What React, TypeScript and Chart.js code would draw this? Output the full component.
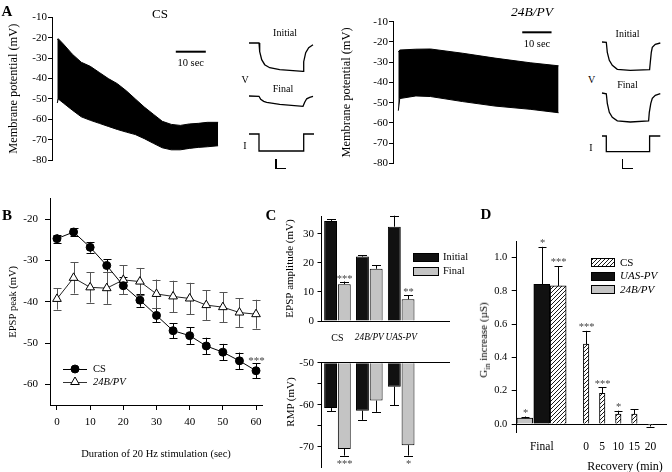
import React, { useEffect, useRef } from 'react';
import { Chart, registerables } from 'chart.js';
Chart.register(...registerables);

const SERIF = '"Liberation Serif", "Times New Roman", Times, serif';
Chart.defaults.color = '#000';
Chart.defaults.font.family = SERIF;
const f = (size: number, style = 'normal', weight = 'normal') => ({ family: SERIF, size, style, weight, lineHeight: 1.2 });

// ================= DATA =================
// Panel A – membrane potential envelope of the 20 Hz train (mV vs s)
const csTraceTime = [0, 0.3, 2, 5, 8, 11, 14, 17, 20, 23, 26, 29, 32, 35, 38, 41, 44, 47, 50, 53.6];
const csTraceUpper = [-21, -20.4, -23, -28, -32, -34, -37, -40, -42.5, -46, -50, -54, -57.5, -61, -62.5, -63, -62.3, -62, -61.5, -61.5];
const csTraceLower = [-52, -50, -52, -55.5, -58.8, -60.5, -62, -63.5, -65, -66.3, -67.5, -69.5, -71.8, -74, -75, -75, -74.3, -73.8, -73.5, -73];
const pvTraceTime = [0, 0.5, 6, 11, 22, 33, 45, 54.7];
const pvTraceUpper = [-25, -24, -23.6, -23.5, -25.6, -28, -30.3, -31.8];
const pvTraceLower = [-54, -48, -46.7, -47, -49.5, -51.7, -53.3, -55];
const memTicks = [-80, -70, -60, -50, -40, -30, -20, -10];

// Panel A insets (arbitrary units, V and I responses to a current pulse)
const csInitT = [0, 10, 10.7, 12.7, 15.7, 20.7, 30.7, 54, 54.7, 56.7, 59.7, 64];
const csInitV = [0, 0, -8.7, -16.7, -21.7, -24.7, -26.7, -28.4, -18.7, -9.7, -4.7, -1.7];
const csFinalT = [0, 10, 11.7, 14.7, 17.7, 30.7, 54, 55.7, 57.7, 60.7, 64];
const csFinalV = [0, -0.3, -3.3, -5.3, -6.3, -8.3, -10.3, -6.3, -2.8, -1.3, -0.3];
const csCurT = [0, 10, 10, 54.7, 54.7, 65];
const csCurI = [0, 0, -17, -17, 0, 0];
const pvInitT = [0, 4.3, 5.3, 7.3, 10.3, 15.3, 28.3, 47.6, 48.3, 49.3, 50.3, 53.3, 58.3];
const pvInitV = [0, -0.3, -10.3, -18.3, -23.3, -27.3, -28.3, -27.6, -20.3, -10.3, -5.3, -2.3, -1];
const pvFinalT = [0, 4.3, 5.3, 7.3, 10.3, 15.3, 28.3, 46.6, 47.3, 48.8, 50.3, 53.3, 58.3];
const pvFinalV = [0, -0.8, -10.3, -19.3, -24.3, -27.8, -29, -28, -19.3, -10.3, -5.3, -2.3, -0.6];
const pvCurT = [0, 4.3, 4.3, 47.6, 47.6, 58.3];
const pvCurI = [0, 0, -15.7, -15.7, 0, 0];

// Panel B – EPSP peak during stimulation
const stimTime = [0, 5, 10, 15, 20, 25, 30, 35, 40, 45, 50, 55, 60];
const csPeak = [-24.7, -23.1, -26.8, -31.2, -36.1, -39.6, -43.3, -47.0, -48.2, -50.7, -52.2, -54.3, -56.7];
const csPeakErr = [1.0, 1.0, 1.3, 1.5, 2.0, 1.6, 1.7, 1.8, 2.0, 2.0, 2.0, 2.0, 1.8];
const csPeakStars = ['', '', '', '', '', '', '', '', '', '', '', '', '***'];
const pvPeak = [-39.3, -34.2, -36.5, -36.7, -34.7, -35.1, -38.1, -38.7, -39.2, -40.8, -41.3, -42.6, -43.0];
const pvPeakErr = [2.6, 3.8, 3.7, 3.8, 3.5, 3.3, 3.5, 3.8, 3.8, 3.6, 3.6, 3.5, 3.5];
const stimTicks = [0, 10, 20, 30, 40, 50, 60];
const peakTicks = [-60, -50, -40, -30, -20];

// Panel C – EPSP amplitude and RMP
const genotypes = ['CS', '24B/PV', 'UAS-PV'];
const epspInitial = [34.5, 22.2, 32.5];
const epspInitialErr = [0.5, 0.5, 3.8];
const epspFinal = [12.7, 18.0, 7.5];
const epspFinalErr = [0.9, 1.2, 1.4];
const epspFinalStars = ['***', '', '**'];
const rmpInitial = [-60.8, -61.4, -55.7];
const rmpInitialErr = [0.8, 2.2, 4.4];
const rmpFinal = [-70.5, -59.0, -69.6];
const rmpFinalErr = [1.6, 2.7, 2.5];
const rmpFinalStars = ['***', '', '*'];
const epspTicks = [0, 5, 10, 15, 20, 25, 30, 35];
const rmpTicks = [-70, -65, -60, -55, -50];

// Panel D – Gin increase
const finalSlots = [-19.1, -13.8, -8.7]; // 24B/PV, UAS-PV, CS (Final group)
const finalGin = [0.035, 0.84, 0.83];
const finalGinErr = [0.01, 0.225, 0.12];
const finalStars = ['*', '*', '***'];
const recoveryMin = [0, 5, 10, 15, 20];
const recoveryGin = [0.48, 0.185, 0.06, 0.06, -0.005];
const recoveryErr = [0.08, 0.035, 0.02, 0.03, 0.01];
const recoveryStars = ['***', '***', '*', '', ''];
const ginTicks = [0, 0.2, 0.4, 0.6, 0.8, 1.0];

// ================= PLUGINS =================
function drawErrorBars(chart: any, opts: any) {
  const ctx = chart.ctx;
  ctx.save();
  chart.data.datasets.forEach((ds: any, di: number) => {
    if (!ds.errors) return;
    const meta = chart.getDatasetMeta(di);
    const ys = chart.scales[meta.yAxisID];
    meta.data.forEach((el: any, i: number) => {
      const raw = ds.data[i];
      const v = typeof raw === 'number' ? raw : raw.y;
      const e = ds.errors[i];
      if (e == null) return;
      const x = Math.round(el.x) + 0.5;
      const cap = (ds.capWidth ?? opts.capWidth ?? 8) / 2;
      const mode = ds.errorMode ?? 'both';
      let pEnd: number, pStart: number;
      if (mode === 'both') {
        pEnd = ys.getPixelForValue(v + e);
        pStart = ys.getPixelForValue(v - e);
      } else {
        const base = ds.errorBase ?? 0;
        const dir = v >= base ? 1 : -1;
        pEnd = ys.getPixelForValue(v + dir * e);
        pStart = ys.getPixelForValue(v);
      }
      ctx.strokeStyle = ds.errorColor ?? '#000';
      ctx.lineWidth = 1;
      ctx.beginPath();
      ctx.moveTo(x, pStart);
      ctx.lineTo(x, pEnd);
      const yE = Math.round(pEnd) + 0.5;
      ctx.moveTo(x - cap, yE);
      ctx.lineTo(x + cap, yE);
      if (mode === 'both') {
        const yS = Math.round(pStart) + 0.5;
        ctx.moveTo(x - cap, yS);
        ctx.lineTo(x + cap, yS);
      }
      ctx.stroke();
      const star = ds.stars?.[i];
      if (star) {
        const size = opts.starSize ?? 11;
        ctx.font = `${size}px ${SERIF}`;
        ctx.fillStyle = opts.starColor ?? '#444';
        ctx.textAlign = 'center';
        ctx.textBaseline = 'alphabetic';
        const gap = opts.starGap ?? 6;
        const up = pEnd <= ys.getPixelForValue(v);
        const c = up ? pEnd - gap : pEnd + gap;
        ctx.fillText(star, x, c + size * 0.5);
      }
    });
  });
  ctx.restore();
}
const errorBarsPlugin = {
  id: 'errorBars',
  beforeDatasetsDraw(chart: any, _a: any, opts: any) { if (opts.layer === 'before') drawErrorBars(chart, opts); },
  afterDatasetsDraw(chart: any, _a: any, opts: any) { if (opts.layer !== 'before') drawErrorBars(chart, opts); },
};

function drawMarker(ctx: any, style: string, x: number, y: number, r: number, fill: string) {
  ctx.beginPath();
  if (style === 'triangle') {
    let rad = 0;
    ctx.moveTo(x + Math.sin(rad) * r, y - Math.cos(rad) * r);
    rad += (2 * Math.PI) / 3;
    ctx.lineTo(x + Math.sin(rad) * r, y - Math.cos(rad) * r);
    rad += (2 * Math.PI) / 3;
    ctx.lineTo(x + Math.sin(rad) * r, y - Math.cos(rad) * r);
    ctx.closePath();
  } else {
    ctx.arc(x, y, r, 0, Math.PI * 2);
  }
  ctx.fillStyle = fill;
  ctx.fill();
  ctx.strokeStyle = '#000';
  ctx.lineWidth = 1;
  ctx.stroke();
}

const miniLegendPlugin = {
  id: 'miniLegend',
  afterDraw(chart: any, _a: any, opts: any) {
    if (!opts.items) return;
    const ctx = chart.ctx;
    ctx.save();
    opts.items.forEach((it: any, i: number) => {
      const y = opts.y + i * opts.spacing;
      if (it.kind === 'line') {
        ctx.strokeStyle = it.color ?? '#000';
        ctx.lineWidth = 1;
        ctx.beginPath();
        ctx.moveTo(opts.x, Math.round(y) + 0.5);
        ctx.lineTo(opts.x + opts.w, Math.round(y) + 0.5);
        ctx.stroke();
        drawMarker(ctx, it.marker, opts.x + opts.w / 2, y, it.radius ?? 4, it.fill);
      } else {
        const fill = typeof it.fill === 'function' ? it.fill(ctx) : it.fill;
        ctx.fillStyle = fill;
        const top = Math.round(y - opts.h / 2);
        ctx.fillRect(opts.x, top, opts.w, opts.h);
        ctx.strokeStyle = '#000';
        ctx.lineWidth = 1;
        ctx.strokeRect(opts.x + 0.5, top + 0.5, opts.w - 1, opts.h - 1);
      }
      ctx.font = `${it.italic ? 'italic ' : ''}${opts.fontSize}px ${SERIF}`;
      ctx.fillStyle = '#000';
      ctx.textAlign = 'left';
      ctx.textBaseline = 'middle';
      ctx.fillText(it.text, opts.x + opts.w + opts.gap, y + 0.5);
    });
    ctx.restore();
  },
};

const timeBarPlugin = {
  id: 'timeBar',
  afterDraw(chart: any, _a: any, opts: any) {
    if (opts.start == null) return;
    const xs = chart.scales.x;
    const x1 = xs.getPixelForValue(opts.start);
    const x2 = xs.getPixelForValue(opts.start + opts.length);
    chart.ctx.save();
    chart.ctx.fillStyle = '#000';
    chart.ctx.fillRect(x1, opts.y - 1, x2 - x1, 2);
    chart.ctx.restore();
  },
};

function hatchPattern() {
  const tile = document.createElement('canvas');
  tile.width = 4;
  tile.height = 4;
  const g = tile.getContext('2d')!;
  g.fillStyle = '#fff';
  g.fillRect(0, 0, 4, 4);
  g.strokeStyle = '#000';
  g.lineWidth = 0.9;
  g.beginPath();
  g.moveTo(0, 4); g.lineTo(4, 0);
  g.moveTo(-1, 1); g.lineTo(1, -1);
  g.moveTo(3, 5); g.lineTo(5, 3);
  g.stroke();
  return g.createPattern(tile, 'repeat');
}

const baseOpts = {
  responsive: false,
  animation: false,
  events: [],
};
const noPlugins = { legend: { display: false }, tooltip: { enabled: false } };
const axisGrid = (tickLength: number, drawTicks = true) => ({
  display: true, drawOnChartArea: false, drawTicks, tickLength, color: '#000', tickColor: '#000',
});
const border = { display: true, color: '#000', width: 1 };

// ================= CONFIG BUILDERS =================
function traceConfig(time: number[], upper: number[], lower: number[], o: any) {
  return {
    type: 'line',
    data: {
      datasets: [
        { label: 'upper', data: time.map((t, i) => ({ x: t, y: upper[i] })), borderColor: '#000', borderWidth: 1, pointRadius: 0, fill: false },
        { label: 'lower', data: time.map((t, i) => ({ x: t, y: lower[i] })), borderColor: '#000', borderWidth: 1, pointRadius: 0, fill: '-1', backgroundColor: '#000' },
      ],
    },
    options: {
      ...baseOpts,
      layout: { padding: { top: o.padTop, right: o.padRight, bottom: o.padBottom, left: 0 } },
      plugins: { ...noPlugins, timeBar: { start: o.barStart, length: 10, y: o.barY } },
      scales: {
        x: { type: 'linear', display: false, min: o.xMin, max: o.xMax },
        y: {
          type: 'linear', min: -80, max: -10,
          afterBuildTicks: (s: any) => { s.ticks = memTicks.map((v) => ({ value: v })); },
          ticks: { font: f(11), padding: 1 },
          grid: axisGrid(4),
          border,
          title: { display: true, text: 'Membrane potential (mV)', font: f(12.4), padding: { top: o.titlePad, bottom: 0 } },
          afterFit: (s: any) => { s.width = o.yWidth; },
        },
      },
    },
    plugins: [timeBarPlugin],
  };
}

function insetConfig(t: number[], v: number[], w: number, d: number) {
  return {
    type: 'line',
    data: { datasets: [{ data: t.map((x, i) => ({ x, y: v[i] })), borderColor: '#000', borderWidth: 1.3, pointRadius: 0, fill: false }] },
    options: {
      ...baseOpts,
      layout: { padding: 0 },
      plugins: noPlugins,
      scales: {
        x: { type: 'linear', display: false, min: -3, max: w + 3 },
        y: { type: 'linear', display: false, min: -(d + 4), max: 4 },
      },
    },
  };
}

function peakConfig() {
  return {
    type: 'line',
    data: {
      datasets: [
        {
          label: 'CS', data: stimTime.map((t, i) => ({ x: t, y: csPeak[i] })),
          borderColor: '#000', borderWidth: 1, pointStyle: 'circle', pointRadius: 4, pointBackgroundColor: '#000', pointBorderColor: '#000',
          errors: csPeakErr, stars: csPeakStars, errorColor: '#000',
        },
        {
          label: '24B/PV', data: stimTime.map((t, i) => ({ x: t, y: pvPeak[i] })),
          borderColor: '#222', borderWidth: 1, pointStyle: 'triangle', pointRadius: 5, pointBackgroundColor: '#fff', pointBorderColor: '#000', pointBorderWidth: 1,
          errors: pvPeakErr, errorColor: '#555',
        },
      ],
    },
    options: {
      ...baseOpts,
      layout: { padding: { top: 8, right: 8, bottom: 0, left: 0 } },
      plugins: {
        ...noPlugins,
        errorBars: { layer: 'before', capWidth: 8, starGap: 5, starSize: 11 },
        miniLegend: {
          x: 63, y: 184, w: 24, spacing: 13, gap: 6, fontSize: 10.5,
          items: [
            { kind: 'line', marker: 'circle', fill: '#000', text: 'CS', radius: 4 },
            { kind: 'line', marker: 'triangle', fill: '#fff', text: '24B/PV', italic: true, radius: 5, color: '#333' },
          ],
        },
      },
      scales: {
        x: {
          type: 'linear', min: -2.1, max: 61.8,
          afterBuildTicks: (s: any) => { s.ticks = stimTicks.map((v) => ({ value: v })); },
          ticks: { font: f(11), padding: 5.7 },
          grid: axisGrid(5),
          border,
          title: { display: true, text: 'Duration of 20 Hz stimulation (sec)', font: f(10.5), padding: { top: 0, bottom: 11.7 } },
          afterFit: (s: any) => { s.height = 67; },
        },
        y: {
          type: 'linear', min: -65, max: -15,
          afterBuildTicks: (s: any) => { s.ticks = peakTicks.map((v) => ({ value: v })); },
          ticks: { font: f(11), padding: 7 },
          grid: axisGrid(5),
          border,
          title: { display: true, text: 'EPSP peak (mV)', font: f(10.5), padding: { top: 7, bottom: 0 } },
          afterFit: (s: any) => { s.width = 50; },
        },
      },
    },
    plugins: [errorBarsPlugin, miniLegendPlugin],
  };
}

const initialColor = '#111';
const finalColor = '#c4c4c4';

function epspConfig() {
  const common = { borderColor: '#000', borderWidth: 1, categoryPercentage: 0.86, barPercentage: 0.94, errorMode: 'away', errorBase: 0 };
  return {
    type: 'bar',
    data: {
      labels: [...genotypes, ''],
      datasets: [
        { label: 'Initial', data: epspInitial, backgroundColor: initialColor, errors: epspInitialErr, ...common },
        { label: 'Final', data: epspFinal, backgroundColor: finalColor, errors: epspFinalErr, stars: epspFinalStars, ...common },
      ],
    },
    options: {
      ...baseOpts,
      layout: { padding: { top: 21, right: 23, bottom: 0, left: 0 } },
      plugins: {
        ...noPlugins,
        errorBars: { capWidth: 9, starGap: 5, starSize: 10.5 },
        miniLegend: {
          x: 151, y: 62, w: 26, h: 9, spacing: 14, gap: 4, fontSize: 10.5,
          items: [
            { kind: 'box', fill: initialColor, text: 'Initial' },
            { kind: 'box', fill: finalColor, text: 'Final' },
          ],
        },
      },
      scales: {
        x: {
          type: 'category', position: 'bottom', offset: true,
          ticks: {
            font: (c: any) => (c.index === 0 ? f(10) : f(9.3, 'italic')),
            padding: 11, maxRotation: 0, minRotation: 0, autoSkip: false,
          },
          grid: axisGrid(0, false),
          border,
          afterFit: (s: any) => { s.height = 24; },
        },
        y: {
          type: 'linear', min: 0, max: 36.2,
          afterBuildTicks: (s: any) => { s.ticks = epspTicks.map((v) => ({ value: v })); },
          ticks: { font: f(11), padding: 3.5, callback: (v: number) => (v % 10 === 0 ? String(v) : '') },
          grid: axisGrid(4),
          border,
          title: { display: true, text: 'EPSP amplitude (mV)', font: f(11), padding: { top: 21.4, bottom: 0 } },
          afterFit: (s: any) => { s.width = 59.5; },
        },
      },
    },
    plugins: [errorBarsPlugin, miniLegendPlugin],
  };
}

function rmpConfig() {
  const common = { borderColor: '#000', borderWidth: 1, categoryPercentage: 0.86, barPercentage: 0.94, base: -50, errorMode: 'away', errorBase: -50 };
  return {
    type: 'bar',
    data: {
      labels: [...genotypes, ''],
      datasets: [
        { label: 'Initial', data: rmpInitial, backgroundColor: initialColor, errors: rmpInitialErr, ...common },
        { label: 'Final', data: rmpFinal, backgroundColor: finalColor, errors: rmpFinalErr, stars: rmpFinalStars, ...common },
      ],
    },
    options: {
      ...baseOpts,
      layout: { padding: { top: 0, right: 23, bottom: 18, left: 0 } },
      plugins: { ...noPlugins, errorBars: { capWidth: 9, starGap: 6, starSize: 10.5 } },
      scales: {
        x: {
          type: 'category', position: 'top', offset: true,
          ticks: { display: false },
          grid: axisGrid(0, false),
          border,
          afterFit: (s: any) => { s.height = 17.7; },
        },
        y: {
          type: 'linear', min: -74.8, max: -50,
          afterBuildTicks: (s: any) => { s.ticks = rmpTicks.map((v) => ({ value: v })); },
          ticks: { font: f(11), padding: 3.5, callback: (v: number) => (v % 10 === 0 ? String(v) : '') },
          grid: axisGrid(4),
          border,
          afterFit: (s: any) => { s.width = 59.5; },
        },
      },
    },
    plugins: [errorBarsPlugin],
  };
}

function ginConfig() {
  const hatch = hatchPattern();
  const common = { borderColor: '#000', borderWidth: 1, grouped: false, errorMode: 'away', errorBase: 0 };
  return {
    type: 'bar',
    data: {
      datasets: [
        { label: '24B/PV', data: [{ x: finalSlots[0], y: finalGin[0] }], backgroundColor: finalColor, barThickness: 16, errors: [finalGinErr[0]], stars: [finalStars[0]], ...common },
        { label: 'UAS-PV', data: [{ x: finalSlots[1], y: finalGin[1] }], backgroundColor: initialColor, barThickness: 16, errors: [finalGinErr[1]], stars: [finalStars[1]], ...common },
        { label: 'CS', data: [{ x: finalSlots[2], y: finalGin[2] }], backgroundColor: hatch, barThickness: 16, errors: [finalGinErr[2]], stars: [finalStars[2]], ...common },
        { label: 'CS recovery', data: recoveryMin.map((m, i) => ({ x: m, y: recoveryGin[i] })), backgroundColor: hatch, barThickness: 5.5, errors: recoveryErr, stars: recoveryStars, ...common },
      ],
    },
    options: {
      ...baseOpts,
      layout: { padding: { top: 11.7, right: 0, bottom: 40, left: 0 } },
      plugins: {
        ...noPlugins,
        errorBars: { capWidth: 8, starGap: 6, starSize: 10.5 },
        miniLegend: {
          x: 121, y: 32.7, w: 24, h: 9, spacing: 13.3, gap: 5, fontSize: 11,
          items: [
            { kind: 'box', fill: () => hatch, text: 'CS' },
            { kind: 'box', fill: initialColor, text: 'UAS-PV', italic: true },
            { kind: 'box', fill: finalColor, text: '24B/PV', italic: true },
          ],
        },
      },
      scales: {
        x: {
          type: 'linear', position: { y: 0 }, min: -21.6, max: 25.1, offset: false,
          afterBuildTicks: (s: any) => { s.ticks = [{ value: finalSlots[1] }, ...recoveryMin.map((v) => ({ value: v }))]; },
          ticks: { font: f(11.5), padding: 15.8, autoSkip: false, maxRotation: 0, callback: (v: number) => (v === finalSlots[1] ? 'Final' : String(v)) },
          grid: axisGrid(0, false),
          border,
        },
        y: {
          type: 'linear', min: -0.048, max: 1.096,
          afterBuildTicks: (s: any) => { s.ticks = ginTicks.map((v) => ({ value: v })); },
          ticks: { font: f(10.5), padding: 4.4, callback: (v: number) => v.toFixed(1) },
          grid: axisGrid(5),
          border,
          afterFit: (s: any) => { s.width = 46.7; },
        },
      },
    },
    plugins: [errorBarsPlugin, miniLegendPlugin],
  };
}

// ================= COMPONENTS =================
function ChartBox({ left, top, width, height, make }: any) {
  const ref = useRef<HTMLCanvasElement>(null);
  useEffect(() => {
    const chart = new Chart(ref.current as HTMLCanvasElement, make());
    return () => chart.destroy();
  }, []);
  return <canvas ref={ref} width={width} height={height} style={{ position: 'absolute', left, top, width, height }} />;
}

function Inset({ x0, y0, t, v, w, d }: any) {
  return <ChartBox left={x0 - 3} top={y0 - 4} width={w + 6} height={d + 8} make={() => insetConfig(t, v, w, d)} />;
}

function Txt({ x, y, size = 11, italic = false, bold = false, rotate = false, children }: any) {
  return (
    <div
      style={{
        position: 'absolute', left: x, top: y, transform: `translate(-50%, -50%)${rotate ? ' rotate(-90deg)' : ''}`, whiteSpace: 'nowrap',
        font: `${italic ? 'italic ' : ''}${bold ? 'bold ' : ''}${size}px ${SERIF}`, lineHeight: 1, color: '#000',
      }}
    >
      {children}
    </div>
  );
}

function LBar({ x, y }: any) {
  return (
    <>
      <div style={{ position: 'absolute', left: x, top: y, width: 1.5, height: 10, background: '#000' }} />
      <div style={{ position: 'absolute', left: x, top: y + 9, width: 11, height: 1.5, background: '#000' }} />
    </>
  );
}

export default function App() {
  return (
    <div style={{ position: 'absolute', left: 0, top: 0, width: 672, height: 472, overflow: 'hidden', background: '#fff' }}>
      {/* Panel A */}
      <ChartBox left={0} top={0} width={226} height={168}
        make={() => traceConfig(csTraceTime, csTraceUpper, csTraceLower, { padTop: 17.5, padRight: 4, padBottom: 8, xMin: -1.77, xMax: 54.9, yWidth: 52, titlePad: 6, barStart: 39.5, barY: 51.7 })} />
      <ChartBox left={336} top={0} width={230} height={172}
        make={() => traceConfig(pvTraceTime, pvTraceUpper, pvTraceLower, { padTop: 21.7, padRight: 4, padBottom: 8.7, xMin: -1.81, xMax: 55.87, yWidth: 57, titlePad: 3.6, barStart: 42.3, barY: 32.3 })} />
      <Inset x0={249.3} y0={43.3} t={csInitT} v={csInitV} w={65} d={30} />
      <Inset x0={249.3} y0={95.7} t={csFinalT} v={csFinalV} w={65} d={12} />
      <Inset x0={249.3} y0={134} t={csCurT} v={csCurI} w={65} d={18} />
      <Inset x0={601.7} y0={41.7} t={pvInitT} v={pvInitV} w={59} d={30} />
      <Inset x0={601.7} y0={92.7} t={pvFinalT} v={pvFinalV} w={59} d={30} />
      <Inset x0={601.7} y0={136} t={pvCurT} v={pvCurI} w={59} d={17} />
      <LBar x={275} y={158.5} />
      <LBar x={621.5} y={158.5} />
      <Txt x={7} y={11} size={15} bold>A</Txt>
      <Txt x={160} y={13} size={13}>CS</Txt>
      <Txt x={532} y={12} size={13.5} italic>24B/PV</Txt>
      <Txt x={190.7} y={63} size={10.5}>10 sec</Txt>
      <Txt x={537} y={43.5} size={10.5}>10 sec</Txt>
      <Txt x={285} y={32.5} size={10}>Initial</Txt>
      <Txt x={245} y={80} size={10}>V</Txt>
      <Txt x={283} y={89} size={10}>Final</Txt>
      <Txt x={245} y={146} size={10}>I</Txt>
      <Txt x={627.5} y={33.5} size={10}>Initial</Txt>
      <Txt x={591.7} y={80} size={10}>V</Txt>
      <Txt x={627.5} y={85} size={10}>Final</Txt>
      <Txt x={591} y={147.7} size={10}>I</Txt>

      {/* Panel B */}
      <ChartBox left={0} top={185} width={270} height={287} make={peakConfig} />
      <Txt x={7} y={215} size={15} bold>B</Txt>

      {/* Panel C */}
      <ChartBox left={262} top={195} width={210} height={150} make={epspConfig} />
      <ChartBox left={262} top={345} width={210} height={140} make={rmpConfig} />
      <Txt x={271} y={215} size={15} bold>C</Txt>
      <Txt x={290} y={402} size={11} rotate>RMP (mV)</Txt>

      {/* Panel D */}
      <ChartBox left={470} top={230} width={202} height={242} make={ginConfig} />
      <Txt x={486} y={214} size={15} bold>D</Txt>
      <div style={{ position: 'absolute', left: 485, top: 340, transform: 'translate(-50%, -50%) rotate(-90deg)', whiteSpace: 'nowrap', font: `11px ${SERIF}`, lineHeight: 1 }}>
        G<sub style={{ fontSize: 8 }}>in</sub> increase (µS)
      </div>
      <Txt x={625} y={466} size={12}>Recovery (min)</Txt>
    </div>
  );
}
